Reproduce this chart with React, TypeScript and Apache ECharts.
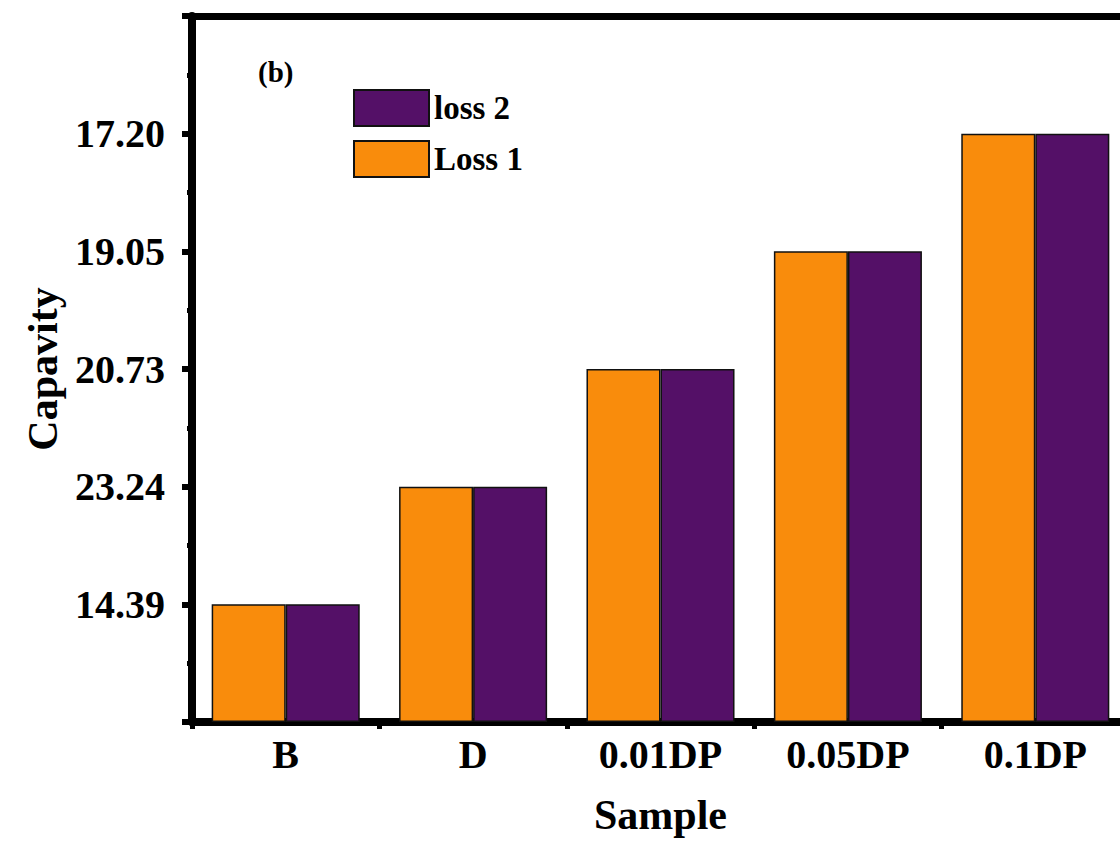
import React, { useEffect, useRef } from "react";
import * as echarts from "echarts";

const categories = ["B", "D", "0.01DP", "0.05DP", "0.1DP"];
const yTickLabels = ["14.39", "23.24", "20.73", "19.05", "17.20"];
const loss1 = [14.39, 23.24, 20.73, 19.05, 17.2];
const loss2 = [14.39, 23.24, 20.73, 19.05, 17.2];

const ORANGE = "#F98C0C";
const PURPLE = "#541067";
const FONT = "Liberation Serif";

// position of a value on the (ordinal) capacity axis: index of its tick label
const level = (v: number) => yTickLabels.indexOf(v.toFixed(2)) + 1;

export default function App() {
  const ref = useRef<HTMLDivElement>(null);
  useEffect(() => {
    if (!ref.current) return;
    const chart = echarts.init(ref.current, null, { renderer: "svg" });
    chart.setOption({
      animation: false,
      backgroundColor: "#ffffff",
      grid: { left: 192, top: 16, width: 937, height: 707, containLabel: false },
      legend: {
        data: ["loss 2", "Loss 1"],
        orient: "vertical",
        left: 348,
        top: 84,
        itemWidth: 75,
        itemHeight: 36,
        itemGap: 13,
        icon: "rect",
        textStyle: { fontFamily: FONT, fontWeight: "bold", fontSize: 33, color: "#000" },
      },
      graphic: [
        {
          type: "text",
          left: 258,
          top: 57,
          style: { text: "(b)", fontFamily: FONT, fontWeight: "bold", fontSize: 29, fill: "#000" },
        },
      ],
      xAxis: [
        {
          type: "category",
          data: categories,
          position: "bottom",
          name: "Sample",
          nameLocation: "middle",
          nameGap: 72,
          nameTextStyle: { fontFamily: FONT, fontWeight: "bold", fontSize: 42, color: "#000" },
          axisLine: { lineStyle: { color: "#000", width: 8 } },
          axisTick: { alignWithLabel: true, length: 9, lineStyle: { color: "#000", width: 5 } },
          axisLabel: { margin: 12, fontFamily: FONT, fontWeight: "bold", fontSize: 40, color: "#000" },
          splitLine: { show: false },
        },
        {
          type: "category",
          data: categories,
          position: "bottom",
          axisLine: { show: false },
          axisTick: { show: true, length: 7, lineStyle: { color: "#000", width: 5 } },
          axisLabel: { show: false },
          splitLine: { show: false },
        },
        {
          type: "category",
          data: categories,
          position: "top",
          axisLine: { lineStyle: { color: "#000", width: 7 } },
          axisTick: { show: false },
          axisLabel: { show: false },
          splitLine: { show: false },
        },
      ],
      yAxis: {
        type: "value",
        min: 0,
        max: 6,
        interval: 1,
        name: "Capavity",
        nameLocation: "middle",
        nameGap: 120,
        nameTextStyle: { fontFamily: FONT, fontWeight: "bold", fontSize: 42, color: "#000" },
        axisLine: { show: true, lineStyle: { color: "#000", width: 8 } },
        axisTick: { show: true, length: 10, lineStyle: { color: "#000", width: 6 } },
        minorTick: { show: true, splitNumber: 2, length: 5, lineStyle: { color: "#000", width: 5 } },
        axisLabel: {
          margin: 27,
          fontFamily: FONT,
          fontWeight: "bold",
          fontSize: 40,
          color: "#000",
          formatter: (v: number) => (v >= 1 && v <= yTickLabels.length ? yTickLabels[v - 1] : ""),
        },
        splitLine: { show: false },
      },
      series: [
        {
          name: "Loss 1",
          type: "bar",
          data: loss1.map(level),
          barGap: "0%",
          barCategoryGap: "21%",
          itemStyle: { color: ORANGE, borderColor: "#111", borderWidth: 1.5 },
        },
        {
          name: "loss 2",
          type: "bar",
          data: loss2.map(level),
          barGap: "0%",
          barCategoryGap: "21%",
          itemStyle: { color: PURPLE, borderColor: "#111", borderWidth: 1.5 },
        },
      ],
    });
    return () => chart.dispose();
  }, []);
  return (
    <div style={{ position: "absolute", left: 0, top: 0, width: 1120, height: 841, overflow: "hidden" }}>
      <div ref={ref} style={{ width: 1140, height: 841 }} />
    </div>
  );
}
